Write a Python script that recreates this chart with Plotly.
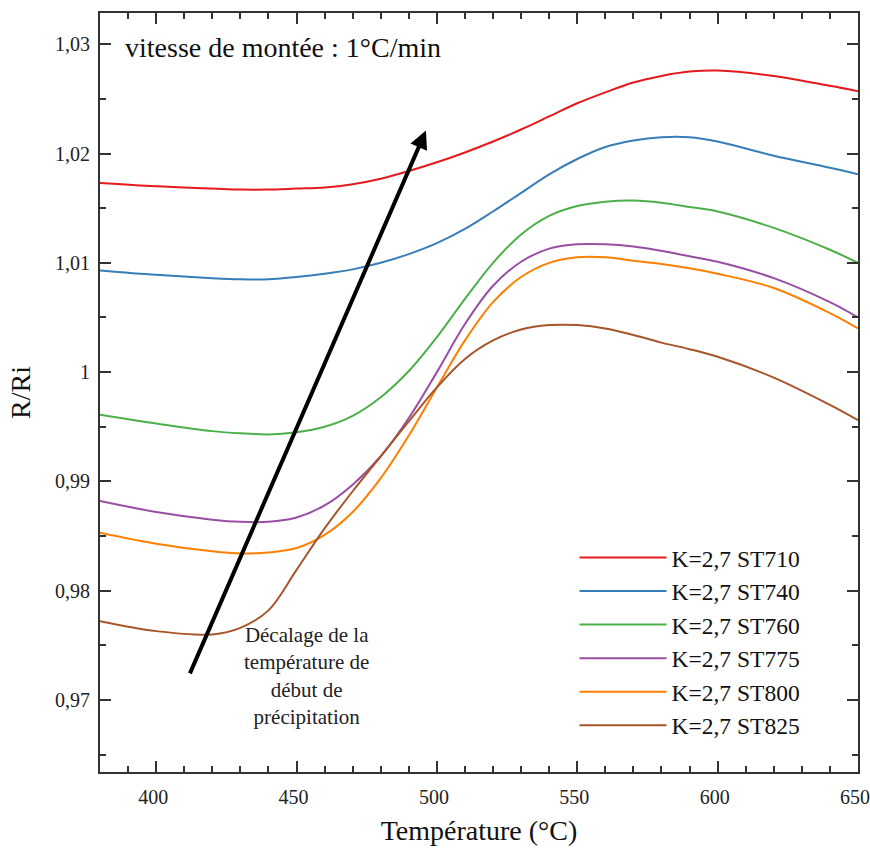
import plotly.graph_objects as go

temperature = [380, 400, 420, 430, 440, 450, 460, 470, 480, 490, 500, 510, 520, 530,
               540, 550, 560, 570, 580, 590, 600, 620, 640, 650]

st710 = [1.0173, 1.0170, 1.0168, 1.0167, 1.0167, 1.0168, 1.0169, 1.0172, 1.0177, 1.0184,
         1.0192, 1.0201, 1.0211, 1.0222, 1.0234, 1.0246, 1.0256, 1.0265, 1.0271, 1.0275,
         1.0276, 1.0271, 1.0262, 1.0257]
st740 = [1.0093, 1.0089, 1.0086, 1.0085, 1.0085, 1.0087, 1.0090, 1.0094, 1.0100, 1.0108,
         1.0118, 1.0131, 1.0147, 1.0164, 1.0181, 1.0195, 1.0206, 1.0212, 1.0215, 1.0215,
         1.0211, 1.0198, 1.0187, 1.0181]
st760 = [0.9961, 0.9953, 0.9946, 0.9944, 0.9943, 0.9945, 0.9950, 0.9960, 0.9977, 1.0001,
         1.0032, 1.0067, 1.0100, 1.0126, 1.0143, 1.0152, 1.0156, 1.0157, 1.0155, 1.0151,
         1.0147, 1.0132, 1.0112, 1.0100]
st775 = [0.9882, 0.9872, 0.9865, 0.9863, 0.9863, 0.9867, 0.9878, 0.9897, 0.9923, 0.9958,
         1.0000, 1.0044, 1.0079, 1.0101, 1.0113, 1.0117, 1.0117, 1.0115, 1.0111, 1.0106,
         1.0101, 1.0086, 1.0064, 1.0050]
st800 = [0.9853, 0.9843, 0.9836, 0.9834, 0.9835, 0.9839, 0.9851, 0.9872, 0.9903, 0.9942,
         0.9986, 1.0029, 1.0064, 1.0087, 1.0100, 1.0105, 1.0105, 1.0102, 1.0099, 1.0095,
         1.0090, 1.0077, 1.0054, 1.0040]
st825 = [0.9772, 0.9763, 0.9760, 0.9766, 0.9782, 0.9819, 0.9857, 0.9891, 0.9923, 0.9955,
         0.9986, 1.0012, 1.0029, 1.0039, 1.0043, 1.0043, 1.0040, 1.0034, 1.0027, 1.0021,
         1.0014, 0.9995, 0.9970, 0.9956]

series_names = ["K=2,7 ST710", "K=2,7 ST740", "K=2,7 ST760",
                "K=2,7 ST775", "K=2,7 ST800", "K=2,7 ST825"]
series_values = [st710, st740, st760, st775, st800, st825]
colors = ["#e41a1c", "#377eb8", "#4daf4a", "#984ea3", "#ff7f00", "#a65628"]

x_tickvals = [400, 450, 500, 550, 600, 650]
x_ticktext = ["400", "450", "500", "550", "600", "650"]
y_tickvals = [0.97, 0.98, 0.99, 1.00, 1.01, 1.02, 1.03]
y_ticktext = ["0,97", "0,98", "0,99", "1", "1,01", "1,02", "1,03"]

arrow_start = (411.8, 0.9723)
arrow_end = (496.1, 1.0221)

SERIF = "Liberation Serif, Times New Roman, serif"

fig = go.Figure()
for name, vals, col in zip(series_names, series_values, colors):
    fig.add_trace(go.Scatter(x=temperature, y=vals, mode="lines", name=name,
                             line=dict(color=col, width=2, shape="spline", smoothing=1.0)))

fig.add_annotation(x=arrow_end[0], y=arrow_end[1], ax=arrow_start[0], ay=arrow_start[1],
                   xref="x", yref="y", axref="x", ayref="y", text="",
                   showarrow=True, arrowhead=2, arrowsize=0.9, arrowwidth=4,
                   arrowcolor="black")

fig.add_annotation(x=453.4, y=0.9722, xref="x", yref="y",
                   text="Décalage de la<br>température de<br>début de<br>précipitation",
                   showarrow=False, align="center",
                   font=dict(family=SERIF, size=21, color="#222222"))

fig.add_annotation(x=0.03, y=0.955, xref="paper", yref="paper", xanchor="left", yanchor="middle",
                   text="vitesse de montée : 1°C/min", showarrow=False,
                   font=dict(family=SERIF, size=28, color="#111111"))

axis_common = dict(showline=True, linecolor="#333333", linewidth=2, mirror="allticks",
                   ticks="inside", ticklen=11, tickwidth=1.5, tickcolor="#333333",
                   showgrid=False, zeroline=False, automargin=False,
                   ticklabeloverflow="allow",
                   tickfont=dict(family=SERIF, size=20, color="#222222"))

fig.update_xaxes(range=[380, 650], tickvals=x_tickvals, ticktext=x_ticktext,
                 minor=dict(dtick=10, ticks="inside", ticklen=6, tickwidth=1.5, tickcolor="#333333"),
                 title=dict(text="Température (°C)", standoff=13,
                            font=dict(family=SERIF, size=28, color="#111111")),
                 ticklabelstandoff=6, ticklabelshift=-3,
                 **axis_common)
fig.update_yaxes(range=[0.96341, 1.03286], tickvals=y_tickvals, ticktext=y_ticktext,
                 minor=dict(tickvals=[0.965, 0.975, 0.985, 0.995, 1.005, 1.015, 1.025],
                            ticks="inside", ticklen=6, tickwidth=1.5, tickcolor="#333333"),
                 title=dict(text="R/Ri", standoff=16,
                            font=dict(family=SERIF, size=28, color="#111111")),
                 ticklabelstandoff=4,
                 **axis_common)

fig.update_layout(width=870, height=848,
                  margin=dict(l=100, r=12, t=13, b=76),
                  plot_bgcolor="white", paper_bgcolor="white",
                  legend=dict(x=0.626, y=0.3113, xanchor="left", yanchor="top",
                              bgcolor="rgba(0,0,0,0)", itemwidth=87,
                              font=dict(family=SERIF, size=23.5, color="#111111")),
                  showlegend=True)

fig.write_html("out.html", config={"displayModeBar": False},
               post_script="document.body.style.margin='0';")
